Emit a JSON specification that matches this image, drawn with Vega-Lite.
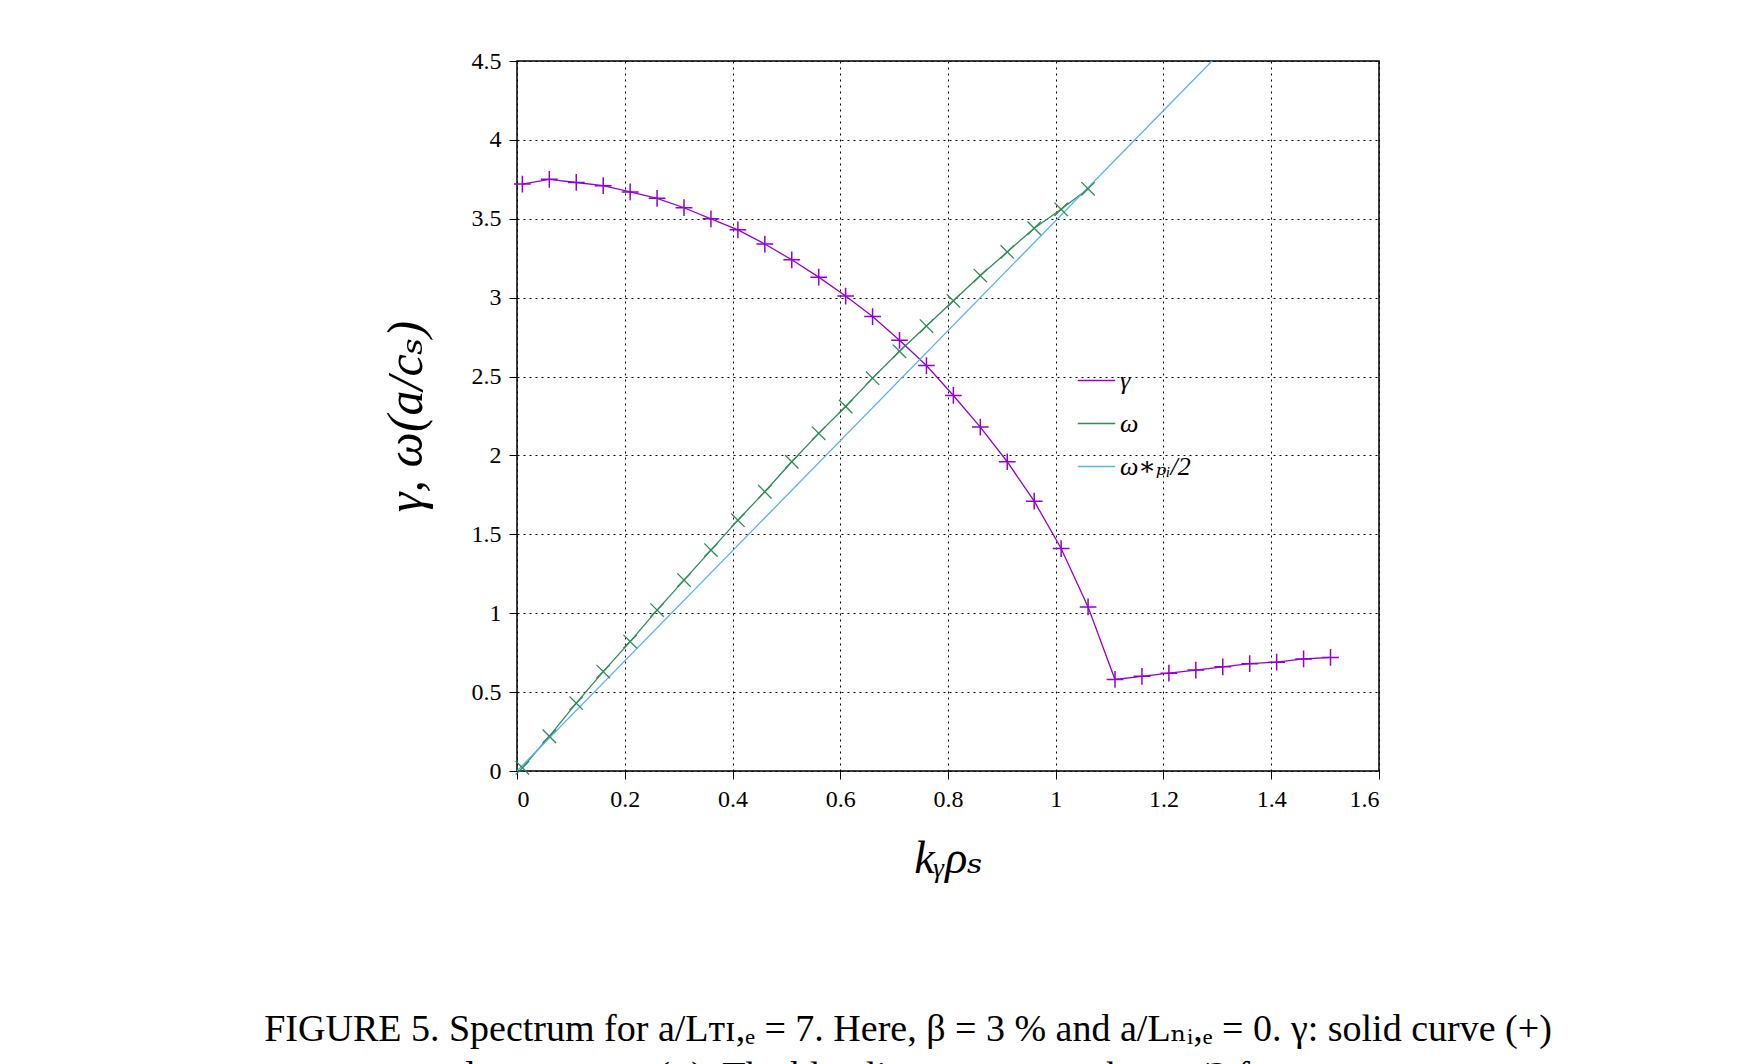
{
  "$schema": "https://vega.github.io/schema/vega-lite/v6.json",
  "autosize": "none",
  "width": 862,
  "height": 710,
  "padding": {"left": 517, "top": 61, "right": 365, "bottom": 293},
  "background": "white",
  "title": {
    "text": ["FIGURE 5. Spectrum for a/Lᴛɪ,ₑ = 7. Here, β = 3 % and a/Lₙᵢ,ₑ = 0. γ: solid curve (+)", "and ωᵣ: crosses (×). The blue line represents the ωₚᵢ/2 frequency."],
    "orient": "bottom",
    "anchor": "middle",
    "frame": "group",
    "dx": -40,
    "offset": 130,
    "font": "Liberation Serif, DejaVu Serif, serif",
    "fontSize": 38,
    "fontWeight": "normal",
    "lineHeight": 47,
    "color": "black"
  },
  "data": {"values": [
    {"k":0.01,"v":3.72,"s":"γ"},{"k":0.06,"v":3.75,"s":"γ"},{"k":0.11,"v":3.73,"s":"γ"},{"k":0.16,"v":3.71,"s":"γ"},
    {"k":0.21,"v":3.67,"s":"γ"},{"k":0.26,"v":3.63,"s":"γ"},{"k":0.31,"v":3.57,"s":"γ"},{"k":0.36,"v":3.50,"s":"γ"},
    {"k":0.41,"v":3.43,"s":"γ"},{"k":0.46,"v":3.34,"s":"γ"},{"k":0.51,"v":3.24,"s":"γ"},{"k":0.56,"v":3.13,"s":"γ"},
    {"k":0.61,"v":3.01,"s":"γ"},{"k":0.66,"v":2.88,"s":"γ"},{"k":0.71,"v":2.73,"s":"γ"},{"k":0.76,"v":2.57,"s":"γ"},
    {"k":0.81,"v":2.38,"s":"γ"},{"k":0.86,"v":2.18,"s":"γ"},{"k":0.91,"v":1.96,"s":"γ"},{"k":0.96,"v":1.71,"s":"γ"},
    {"k":1.01,"v":1.41,"s":"γ"},{"k":1.06,"v":1.04,"s":"γ"},{"k":1.11,"v":0.58,"s":"γ"},{"k":1.16,"v":0.60,"s":"γ"},
    {"k":1.21,"v":0.62,"s":"γ"},{"k":1.26,"v":0.64,"s":"γ"},{"k":1.31,"v":0.66,"s":"γ"},{"k":1.36,"v":0.68,"s":"γ"},
    {"k":1.41,"v":0.69,"s":"γ"},{"k":1.46,"v":0.71,"s":"γ"},{"k":1.51,"v":0.72,"s":"γ"},
    {"k":0.01,"v":0.02,"s":"ω"},{"k":0.06,"v":0.22,"s":"ω"},{"k":0.11,"v":0.43,"s":"ω"},{"k":0.16,"v":0.63,"s":"ω"},
    {"k":0.21,"v":0.82,"s":"ω"},{"k":0.26,"v":1.02,"s":"ω"},{"k":0.31,"v":1.21,"s":"ω"},{"k":0.36,"v":1.40,"s":"ω"},
    {"k":0.41,"v":1.59,"s":"ω"},{"k":0.46,"v":1.77,"s":"ω"},{"k":0.51,"v":1.96,"s":"ω"},{"k":0.56,"v":2.14,"s":"ω"},
    {"k":0.61,"v":2.31,"s":"ω"},{"k":0.66,"v":2.49,"s":"ω"},{"k":0.71,"v":2.66,"s":"ω"},{"k":0.76,"v":2.82,"s":"ω"},
    {"k":0.81,"v":2.98,"s":"ω"},{"k":0.86,"v":3.14,"s":"ω"},{"k":0.91,"v":3.29,"s":"ω"},{"k":0.96,"v":3.44,"s":"ω"},
    {"k":1.01,"v":3.56,"s":"ω"},{"k":1.06,"v":3.69,"s":"ω"},
    {"k":0,"v":0,"s":"ω∗ₚᵢ/2"},{"k":1.29,"v":4.5,"s":"ω∗ₚᵢ/2"}
  ]},
  "encoding": {
    "x": {"field": "k", "type": "quantitative", "scale": {"domain": [0, 1.6], "nice": false},
      "axis": {"title": "kᵧρₛ", "format": "~g", "values": [0,0.2,0.4,0.6,0.8,1,1.2,1.4,1.6], "titleFontSize": 46, "titleFontStyle": "italic", "titlePadding": 25}},
    "y": {"field": "v", "type": "quantitative", "scale": {"domain": [0, 4.5], "nice": false},
      "axis": {"title": "γ, ω(a/cₛ)", "format": "~g", "values": [0,0.5,1,1.5,2,2.5,3,3.5,4,4.5], "titleFontSize": 50, "titleFontStyle": "italic", "titlePadding": 40}},
    "color": {"field": "s", "type": "nominal",
      "scale": {"domain": ["γ", "ω", "ω∗ₚᵢ/2"], "range": ["#9400d3", "#2e8b57", "#56b4e9"]}}
  },
  "layer": [
    {
      "mark": {"type": "line", "strokeWidth": 1.3, "clip": true},
      "encoding": {"color": {"field": "s", "type": "nominal",
        "legend": {"orient": "none", "legendX": 560, "legendY": 300, "title": null, "symbolType": "stroke", "symbolSize": 1400, "symbolStrokeWidth": 1.3, "labelFontSize": 26, "labelFontStyle": "italic", "labelFont": "Liberation Serif, DejaVu Serif, serif", "rowPadding": 10, "direction": "vertical"}}}
    },
    {
      "transform": [{"filter": "datum.s == 'γ'"}],
      "mark": {"type": "point", "shape": "M-1,0L1,0M0,-1L0,1", "filled": false, "size": 280, "strokeWidth": 1.5, "opacity": 1}
    },
    {
      "transform": [{"filter": "datum.s == 'ω'"}],
      "mark": {"type": "point", "shape": "M-1,-1L1,1M-1,1L1,-1", "filled": false, "size": 180, "strokeWidth": 1.3, "opacity": 1}
    }
  ],
  "config": {
    "font": "Liberation Serif, DejaVu Serif, serif",
    "view": {"stroke": "black", "strokeWidth": 1.5},
    "axis": {"labelFontSize": 24, "labelColor": "black", "titleColor": "black", "titleFontWeight": "normal", "titleFont": "Liberation Serif, DejaVu Serif, serif", "labelFont": "Liberation Serif, DejaVu Serif, serif",
      "grid": true, "gridColor": "black", "gridDash": [2, 4], "gridWidth": 1, "domain": false, "tickColor": "black", "tickSize": 8, "labelPadding": 8}
  }
}
